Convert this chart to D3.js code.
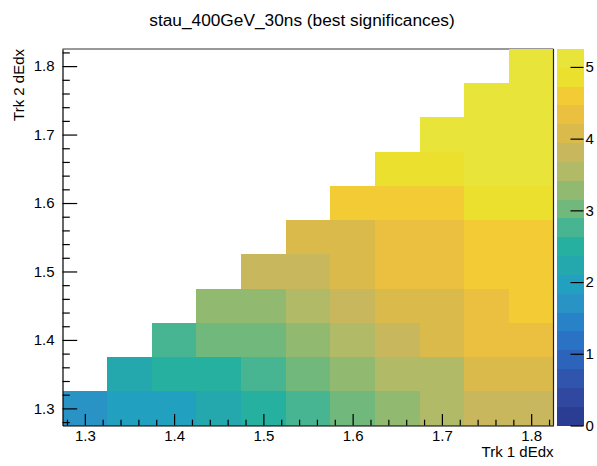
<!DOCTYPE html>
<html>
<head>
<meta charset="utf-8">
<script src="https://cdn.jsdelivr.net/npm/d3@7"></script>
<style>
  html, body { margin: 0; padding: 0; background: #fff; }
  svg { display: block; }
  text { font-family: "Liberation Sans", Arial, Helvetica, sans-serif; fill: #000; }
</style>
</head>
<body>
<svg id="chart" width="597" height="466"></svg>
<script>
// ---- data ----
const chartTitle = "stau_400GeV_30ns (best significances)";
const xTitle = "Trk 1 dEdx";
const yTitle = "Trk 2 dEdx";
const xBins = [1.30, 1.35, 1.40, 1.45, 1.50, 1.55, 1.60, 1.65, 1.70, 1.75, 1.80];
const yBins = [1.30, 1.35, 1.40, 1.45, 1.50, 1.55, 1.60, 1.65, 1.70, 1.75, 1.80];
const binWidth = 0.05;
// significance[j][i] : row j = yBins[j], column i = xBins[i]; null = empty bin
const significance = [
  [1.71, 1.97, 1.99, 2.23, 2.49, 2.76, 3.01, 3.27, 3.54, 3.80, 3.82],
  [null, 2.24, 2.50, 2.52, 2.74, 3.03, 3.29, 3.55, 3.57, 4.06, 4.08],
  [null, null, 2.77, 3.02, 3.04, 3.30, 3.56, 3.81, 4.07, 4.33, 4.35],
  [null, null, null, 3.28, 3.31, 3.58, 3.82, 4.08, 4.09, 4.34, 4.60],
  [null, null, null, null, 3.79, 3.83, 4.06, 4.32, 4.36, 4.59, 4.62],
  [null, null, null, null, null, 4.05, 4.10, 4.34, 4.37, 4.61, 4.63],
  [null, null, null, null, null, null, 4.58, 4.60, 4.64, 4.86, 4.88],
  [null, null, null, null, null, null, null, 4.85, 4.87, 5.05, 5.08],
  [null, null, null, null, null, null, null, null, 5.04, 5.10, 5.14],
  [null, null, null, null, null, null, null, null, null, 5.12, 5.18],
  [null, null, null, null, null, null, null, null, null, null, 5.25]
];
const xTickLabels = [1.3, 1.4, 1.5, 1.6, 1.7, 1.8];
const yTickLabels = [1.3, 1.4, 1.5, 1.6, 1.7, 1.8];
const zTickLabels = [0, 1, 2, 3, 4, 5];
// 20 contour colours (ROOT kBird-like, as seen in the picture)
const paletteColors = [
  "#2b3d92", "#30489f", "#2f55ad", "#2c63bb", "#2a72c4",
  "#2882c8", "#2a93c6", "#22a0c0", "#25a8ad", "#25b09f",
  "#47b592", "#70b87c", "#91b970", "#b0ba67", "#c9b75e",
  "#d9ba4a", "#ebc040", "#f2cb35", "#ebe02e", "#e9e43a"
];

// ---- layout ----
const frame = { left: 62.5, right: 553.5, top: 49, bottom: 425.5 };
const pal = { left: 557, right: 583.5 };
const svg = d3.select("#chart");

const zMax = d3.max(significance.flat().filter(v => v != null));
const x = d3.scaleLinear().domain([1.275, 1.825]).range([frame.left, frame.right]);
const y = d3.scaleLinear().domain([1.275, 1.825]).range([frame.bottom, frame.top]);
const z = d3.scaleLinear().domain([0, zMax]).range([frame.bottom, frame.top]);
const color = d3.scaleQuantize().domain([0, zMax]).range(paletteColors);

// title
svg.append("text")
  .attr("x", 302).attr("y", 26)
  .attr("text-anchor", "middle")
  .style("font-size", "17.3px")
  .text(chartTitle);

// top frame line (covered by cells)
svg.append("line")
  .attr("x1", frame.left).attr("x2", frame.right)
  .attr("y1", frame.top).attr("y2", frame.top)
  .attr("stroke", "#333").attr("stroke-width", 1);

// cells
const cells = [];
significance.forEach((row, j) => row.forEach((v, i) => {
  if (v != null) cells.push({ xc: xBins[i], yc: yBins[j], v });
}));
svg.append("g").selectAll("rect").data(cells).join("rect")
  .attr("x", d => x(d.xc - binWidth / 2))
  .attr("y", d => y(d.yc + binWidth / 2))
  .attr("width", d => x(d.xc + binWidth / 2) - x(d.xc - binWidth / 2))
  .attr("height", d => y(d.yc - binWidth / 2) - y(d.yc + binWidth / 2))
  .attr("fill", d => color(d.v))
  .attr("shape-rendering", "crispEdges");

// right frame line
svg.append("line")
  .attr("x1", frame.right).attr("x2", frame.right)
  .attr("y1", frame.top).attr("y2", frame.bottom)
  .attr("stroke", "#222").attr("stroke-width", 1.2);

// minor tick values
const minorVals = d3.range(1.28, 1.8201, 0.02).filter(v => Math.abs(Math.round(v * 10) - v * 10) > 1e-6);

// x axis
const xAxisG = svg.append("g").attr("transform", `translate(0,${frame.bottom})`);
xAxisG.call(d3.axisBottom(x).tickValues(xTickLabels).tickFormat(d3.format(".1f"))
  .tickSizeInner(-11.5).tickSizeOuter(0).tickPadding(5));
xAxisG.append("g").call(d3.axisBottom(x).tickValues(minorVals).tickFormat("")
  .tickSizeInner(-5.8).tickSizeOuter(0)).select(".domain").remove();

// y axis
const yAxisG = svg.append("g").attr("transform", `translate(${frame.left},0)`);
yAxisG.call(d3.axisLeft(y).tickValues(yTickLabels).tickFormat(d3.format(".1f"))
  .tickSizeInner(-14.7).tickSizeOuter(0).tickPadding(8));
yAxisG.append("g").call(d3.axisLeft(y).tickValues(minorVals).tickFormat("")
  .tickSizeInner(-7.3).tickSizeOuter(0)).select(".domain").remove();

[xAxisG, yAxisG].forEach(g => {
  g.selectAll("text").style("font-size", "15px").attr("fill", "#000")
    .style("font-family", "'Liberation Sans', Arial, sans-serif");
  g.selectAll("line").attr("stroke", "#000").attr("stroke-width", 1.2);
  g.selectAll(".domain").attr("stroke", "#000").attr("stroke-width", 1.2);
});

// axis titles
svg.append("text")
  .attr("x", frame.right).attr("y", 457)
  .attr("text-anchor", "end")
  .style("font-size", "15px")
  .text(xTitle);
svg.append("text")
  .attr("transform", `translate(24,${frame.top}) rotate(-90)`)
  .attr("text-anchor", "end")
  .style("font-size", "15px")
  .text(yTitle);

// palette
const nLev = paletteColors.length;
const levels = d3.range(nLev).map(k => ({ k, lo: k * zMax / nLev, hi: (k + 1) * zMax / nLev }));
svg.append("g").selectAll("rect").data(levels).join("rect")
  .attr("x", pal.left)
  .attr("y", d => z(d.hi))
  .attr("width", pal.right - pal.left)
  .attr("height", d => z(d.lo) - z(d.hi))
  .attr("fill", d => paletteColors[d.k])
  .attr("shape-rendering", "crispEdges");

const zAxisG = svg.append("g").attr("transform", `translate(${pal.right},0)`);
zAxisG.call(d3.axisRight(z).tickValues(zTickLabels).tickFormat(d3.format("d"))
  .tickSizeInner(-13).tickSizeOuter(0).tickPadding(2));
zAxisG.select(".domain").remove();
zAxisG.selectAll("text").style("font-size", "15px").attr("fill", "#000")
  .style("font-family", "'Liberation Sans', Arial, sans-serif");
zAxisG.selectAll("line").attr("stroke", "#000").attr("stroke-width", 1.2);
</script>
</body>
</html>
